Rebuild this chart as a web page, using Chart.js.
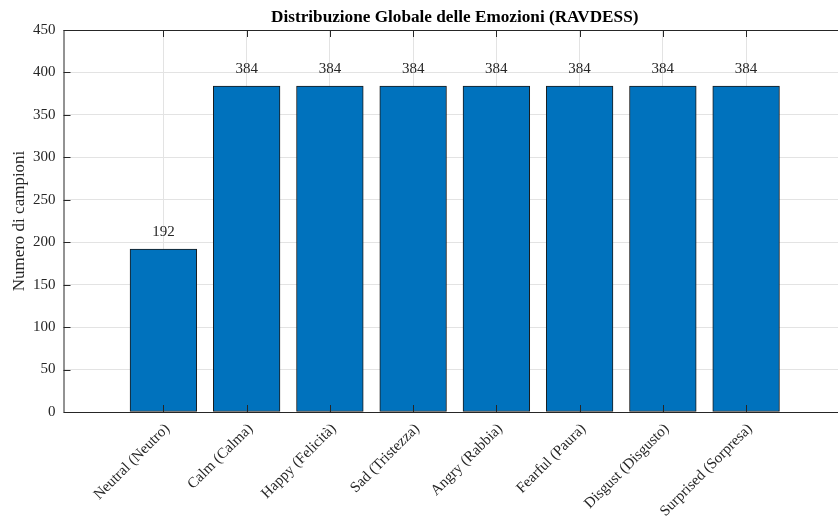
<!DOCTYPE html>
<html>
<head>
<meta charset="utf-8">
<script src="https://cdn.jsdelivr.net/npm/chart.js@4.4.1/dist/chart.umd.min.js"></script>
<style>
  html, body { margin: 0; padding: 0; background: #fff; overflow: hidden; }
  #wrap { width: 838px; height: 523px; overflow: hidden; position: relative; }
  canvas { display: block; }
</style>
</head>
<body>
<div id="wrap"><canvas id="c" width="860" height="523"></canvas></div>
<script>
// Emotion categories and sample counts per class
const categories = [
  'Neutral (Neutro)', 'Calm (Calma)', 'Happy (Felicità)', 'Sad (Tristezza)',
  'Angry (Rabbia)', 'Fearful (Paura)', 'Disgust (Disgusto)', 'Surprised (Sorpresa)'
];
const counts = [192, 384, 384, 384, 384, 384, 384, 384];
const yTicks = [0, 50, 100, 150, 200, 250, 300, 350, 400, 450];

const titleText = 'Distribuzione Globale delle Emozioni (RAVDESS)';
const yTitleText = 'Numero di campioni';

const FONT = '"Liberation Serif", "Times New Roman", serif';
const INK = '#262626';
const TICK_LEN = 7;

const points = counts.map((v, i) => ({ x: i + 1, y: v }));

// Box, inward tick marks, title, axis title and value labels
const framePlugin = {
  id: 'frame',
  afterDatasetsDraw(chart) {
    const { ctx, chartArea: a, scales: { x, y } } = chart;
    ctx.save();
    ctx.strokeStyle = INK;
    ctx.lineWidth = 1;
    ctx.beginPath();
    // box
    ctx.moveTo(a.left + 0.5, a.top + 0.5);
    ctx.lineTo(a.right, a.top + 0.5);
    ctx.moveTo(a.left + 0.5, a.top);
    ctx.lineTo(a.left + 0.5, a.bottom + 0.5);
    ctx.lineTo(a.right, a.bottom + 0.5);
    ctx.lineTo(a.right, a.top);
    // x ticks (bottom and top, pointing inward)
    categories.forEach((_, i) => {
      const px = Math.round(x.getPixelForValue(i + 1)) + 0.5;
      ctx.moveTo(px, a.bottom);
      ctx.lineTo(px, a.bottom - TICK_LEN);
      ctx.moveTo(px, a.top);
      ctx.lineTo(px, a.top + TICK_LEN);
    });
    // y ticks (left, pointing inward)
    yTicks.forEach(v => {
      const py = Math.round(y.getPixelForValue(v)) + 0.5;
      ctx.moveTo(a.left, py);
      ctx.lineTo(a.left + TICK_LEN, py);
    });
    ctx.stroke();

    // value labels above each bar
    ctx.fillStyle = INK;
    ctx.font = '15px ' + FONT;
    ctx.textAlign = 'center';
    ctx.textBaseline = 'middle';
    const meta = chart.getDatasetMeta(0);
    meta.data.forEach((bar, i) => {
      ctx.fillText(String(counts[i]), bar.x, y.getPixelForValue(counts[i]) - 17);
    });

    // title
    ctx.fillStyle = '#000';
    ctx.font = 'bold 17.2px ' + FONT;
    ctx.fillText(titleText, (a.left + a.right) / 2, 18);

    // y axis title
    ctx.fillStyle = INK;
    ctx.font = '17px ' + FONT;
    ctx.translate(20, (a.top + a.bottom) / 2);
    ctx.rotate(-Math.PI / 2);
    ctx.fillText(yTitleText, 0, 0);
    ctx.restore();
  }
};

new Chart(document.getElementById('c'), {
  type: 'bar',
  data: {
    datasets: [{
      data: points,
      backgroundColor: '#0072BD',
      borderColor: '#1a1a1a',
      borderWidth: 1,
      borderSkipped: false,
      barThickness: 66.7
    }]
  },
  options: {
    responsive: false,
    animation: false,
    events: [],
    layout: { padding: { top: 30, right: 14, left: 0, bottom: 0 } },
    plugins: { legend: { display: false }, tooltip: { enabled: false }, title: { display: false } },
    scales: {
      x: {
        type: 'linear',
        offset: false,
        min: -0.2,
        max: 9.2,
        grid: { offset: false, color: '#e3e3e3', drawTicks: false },
        border: { display: false },
        afterBuildTicks(scale) { scale.ticks = categories.map((_, i) => ({ value: i + 1 })); },
        afterFit(scale) { scale.height = 111; },
        ticks: {
          autoSkip: false,
          maxRotation: 45,
          minRotation: 45,
          padding: 8,
          labelOffset: 4,
          color: INK,
          font: { family: FONT, size: 15 },
          callback: (v) => categories[v - 1] ?? ''
        }
      },
      y: {
        min: 0,
        max: 450,
        grid: { color: '#e3e3e3', drawTicks: false },
        border: { display: false },
        afterBuildTicks(scale) { scale.ticks = yTicks.map(v => ({ value: v })); },
        afterFit(scale) { scale.width = 63.5; },
        ticks: {
          padding: 8,
          color: INK,
          font: { family: FONT, size: 15 }
        }
      }
    }
  },
  plugins: [framePlugin]
});
</script>
</body>
</html>
